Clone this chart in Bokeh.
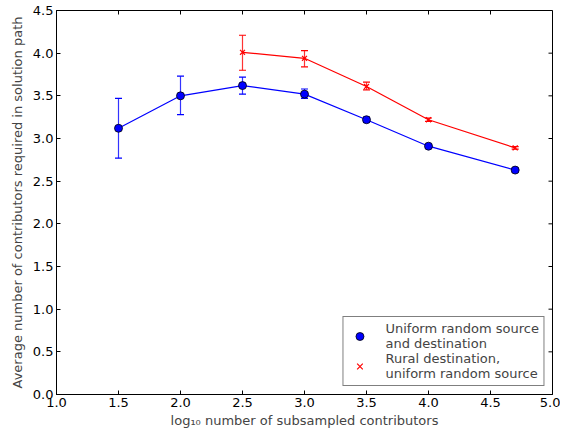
import math
from bokeh.plotting import figure
from bokeh.models import (ColumnDataSource, Whisker, TeeHead, Legend, LegendItem,
                          Range1d, FixedTicker, NumeralTickFormatter)
from bokeh.embed import file_html
from bokeh.resources import INLINE

# data
x_uniform = [1.5, 2.0, 2.5, 3.0, 3.5, 4.0, 4.699]
y_uniform = [3.12, 3.50, 3.62, 3.52, 3.22, 2.91, 2.63]
lo_uniform = [2.77, 3.28, 3.52, 3.47, 3.19, 2.89, 2.61]
hi_uniform = [3.47, 3.73, 3.72, 3.58, 3.25, 2.93, 2.65]

x_rural = [2.5, 3.0, 3.5, 4.0, 4.699]
y_rural = [4.01, 3.94, 3.61, 3.22, 2.89]
lo_rural = [3.80, 3.84, 3.57, 3.20, 2.875]
hi_rural = [4.21, 4.03, 3.66, 3.24, 2.905]

x_ticks = [1.0, 1.5, 2.0, 2.5, 3.0, 3.5, 4.0, 4.5, 5.0]
y_ticks = [0.0, 0.5, 1.0, 1.5, 2.0, 2.5, 3.0, 3.5, 4.0, 4.5]

FONT = "DejaVu Sans"
FS = "13px"

p = figure(frame_width=496, frame_height=384, output_backend="svg", toolbar_location=None,
           x_range=Range1d(1.0, 5.0), y_range=Range1d(0.0, 4.5),
           min_border_left=56, min_border_right=8, min_border_top=10, min_border_bottom=39)
p.grid.visible = False
p.outline_line_color = "black"
p.outline_line_width = 1
p.background_fill_color = "white"
p.border_fill_color = "white"

for ax in p.xaxis + p.yaxis:
    ax.major_tick_in = 4
    ax.major_tick_out = 0
    ax.minor_tick_in = 0
    ax.minor_tick_out = 0
    ax.major_label_text_font = FONT
    ax.major_label_text_font_size = FS
    ax.major_label_text_color = "black"
    ax.axis_label_text_font = FONT
    ax.axis_label_text_font_size = FS
    ax.axis_label_text_font_style = "normal"
    ax.axis_line_color = "black"
    ax.formatter = NumeralTickFormatter(format="0.0")
p.xaxis.ticker = FixedTicker(ticks=x_ticks)
p.yaxis.ticker = FixedTicker(ticks=y_ticks)
p.xaxis.major_label_standoff = 3
p.yaxis.major_label_standoff = 3
p.xaxis.axis_label = "log\u2081\u2080 number of subsampled contributors"
p.yaxis.axis_label = "Average number of contributors required in solution path"
p.xaxis.axis_label_standoff = 3
p.yaxis.axis_label_standoff = 5

# mirrored inward ticks on top and right edges
n_x = len(x_ticks)
n_y = len(y_ticks)
p.ray(x=x_ticks, y=[y_ticks[-1]] * n_x, length=4, length_units="screen",
      angle=-math.pi / 2, line_color="black", line_width=1)
p.ray(x=[x_ticks[-1]] * n_y, y=y_ticks, length=4, length_units="screen",
      angle=math.pi, line_color="black", line_width=1)

src_u = ColumnDataSource(dict(x=x_uniform, y=y_uniform, lo=lo_uniform, hi=hi_uniform))
src_r = ColumnDataSource(dict(x=x_rural, y=y_rural, lo=lo_rural, hi=hi_rural))

blue = "#0000ff"
red = "#ff0000"

for src, col in ((src_u, blue), (src_r, red)):
    w = Whisker(source=src, base="x", lower="lo", upper="hi", line_color=col, line_width=1.2,
                line_alpha=0.8,
                upper_head=TeeHead(size=7, line_color=col, line_width=1.2),
                lower_head=TeeHead(size=7, line_color=col, line_width=1.2))
    p.add_layout(w)

p.line("x", "y", source=src_u, line_color=blue, line_width=1.2)
p.line("x", "y", source=src_r, line_color=red, line_width=1.2)
r_u = p.scatter("x", "y", source=src_u, marker="circle", size=8, fill_color=blue,
                line_color="black", line_width=0.8)
r_r = p.scatter("x", "y", source=src_r, marker="x", size=7, line_color=red, line_width=1.2)

legend = Legend(items=[
    LegendItem(label="Uniform random source\nand destination", renderers=[r_u]),
    LegendItem(label="Rural destination,\nuniform random source", renderers=[r_r]),
], location="bottom_right")
legend.label_text_font = FONT
legend.label_text_font_size = FS
legend.label_text_line_height = 1.0
legend.border_line_color = "black"
legend.border_line_width = 1
legend.margin = 8
legend.padding = 4
legend.spacing = 0
legend.glyph_width = 24
legend.label_standoff = 14
p.add_layout(legend)

open("out.html", "w").write(file_html(p, INLINE))
